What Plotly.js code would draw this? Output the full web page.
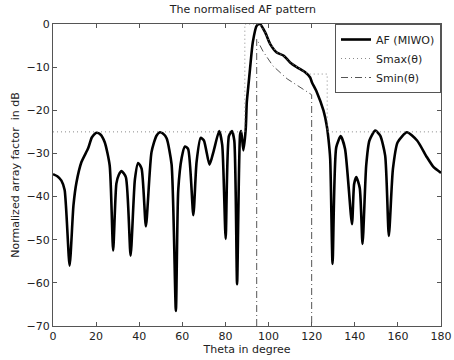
<!DOCTYPE html>
<html>
<head>
<meta charset="utf-8">
<script src="https://cdn.plot.ly/plotly-3.0.1.min.js"></script>
<style>html,body{margin:0;padding:0;background:#fff;}#chart{width:454px;height:360px;}</style>
</head>
<body>
<div id="chart"></div>
<script>
// AF (MIWO) pattern
const afTheta = [0, 2, 3.9, 5.4, 7.7, 9.5, 10.9, 13.2, 16.3, 18, 20.1, 22, 24, 26.3, 27.9, 29.4, 30.5, 31.8, 33.8, 36, 38, 39.5, 41.1, 43.1, 45.7, 48, 49.6, 51, 52.7, 55, 57, 58.1, 59.7, 61.2, 62.7, 65.1, 66.6, 68.5, 70, 72.6, 74.5, 77.1, 78.5, 80.1, 81.6, 83, 84.1, 85.4, 86.8, 87.3, 88.3, 89.4, 89.9, 90.6, 91.4, 92.7, 94.5, 96, 98.4, 100.7, 103.8, 106.9, 110, 113.1, 117, 119.3, 120.1, 122.4, 125.5, 127, 127.8, 128.6, 129.7, 131.4, 133.5, 135.5, 138.7, 139.7, 140.7, 142.3, 143.6, 145.3, 146.8, 149.5, 151.8, 154.1, 155.8, 157.7, 159.9, 164.2, 168.9, 173.5, 176.6, 180];
const afDb = [-34.8, -35.3, -36.3, -38.5, -56, -42, -36.7, -32, -28.8, -26.3, -25.2, -25.6, -27.4, -32.8, -52.5, -37, -35, -34.1, -35.5, -53.7, -36, -32.2, -33.5, -46.9, -29.7, -25.9, -25.1, -25.4, -26.5, -32.5, -66.5, -38.5, -31, -28.4, -29, -44.3, -32, -26.4, -27, -32.6, -29.5, -24.8, -28, -49.8, -26, -24.8, -27, -60.3, -25.6, -24.8, -29.3, -24.4, -18.2, -14.5, -10.4, -4.2, -0.4, 0, -1.9, -4.6, -6.6, -7.3, -8.9, -10.0, -11.2, -12.4, -13.5, -15.8, -20.1, -23.6, -26.7, -31.3, -55.6, -28.6, -26.0, -29, -46.4, -37.1, -35.5, -38, -51, -32.8, -27, -24.7, -25.9, -30.5, -49.1, -33.6, -27.4, -25.1, -27, -30.9, -33.2, -34.5];

// Smax(θ) mask
const smaxTheta = [0, 89, 89, 96, 98.4, 100.7, 103.8, 106.9, 110, 113.1, 117, 118.5, 127.2, 127.2, 180];
const smaxDb = [-25, -25, 0, 0, -1.9, -4.6, -6.6, -7.3, -8.9, -10.0, -11.2, -11.6, -11.6, -25, -25];

// Smin(θ) mask
const sminTheta = [94.5, 94.5, 97.4, 102, 108.6, 114.6, 120, 120];
const sminDb = [-70, -3.5, -6.3, -9.7, -12.7, -14.6, -16.4, -70];

const xTicks = [0, 20, 40, 60, 80, 100, 120, 140, 160, 180];
const yTicks = [0, -10, -20, -30, -40, -50, -60, -70];

const font = {family: 'DejaVu Sans, Verdana, sans-serif', size: 11, color: '#222'};

const traces = [
  {x: afTheta, y: afDb, name: 'AF (MIWO)', mode: 'lines',
   line: {color: '#000', width: 2.6, shape: 'spline', smoothing: 0.6}},
  {x: smaxTheta, y: smaxDb, name: 'Smax(θ)', mode: 'lines',
   line: {color: '#8a8a8a', width: 1, dash: '1px,3px'}},
  {x: sminTheta, y: sminDb, name: 'Smin(θ)', mode: 'lines',
   line: {color: '#555', width: 1, dash: '7px,3px,1px,3px'}}
];

const axisCommon = {
  showgrid: false, zeroline: false, showline: true, linecolor: '#555', linewidth: 1,
  mirror: 'ticks', ticks: 'inside', ticklen: 4, tickcolor: '#555', tickfont: font
};

const layout = {
  width: 454, height: 360,
  margin: {l: 53, r: 13, t: 24, b: 34},
  paper_bgcolor: '#fff', plot_bgcolor: '#fff',
  font: font,
  title: {text: 'The normalised AF pattern', font: {family: font.family, size: 11, color: '#222'}, x: 0.535, xanchor: 'center', y: 0.985, yanchor: 'top'},
  xaxis: Object.assign({}, axisCommon, {range: [0, 180], tickvals: xTicks, ticktext: xTicks.map(String),
    title: {text: 'Theta in degree', font: font, standoff: 2}}),
  yaxis: Object.assign({}, axisCommon, {range: [-70, 0], tickvals: yTicks, ticktext: yTicks.map(v => v === 0 ? '0' : '\u2212' + Math.abs(v)),
    title: {text: 'Normalized array factor  in dB', font: font, standoff: 4}}),
  showlegend: true,
  legend: {x: 1, y: 1, xanchor: 'right', yanchor: 'top', bgcolor: '#fff',
    bordercolor: '#555', borderwidth: 1, font: font, tracegroupgap: 0,
    itemwidth: 30}
};

Plotly.newPlot('chart', traces, layout, {staticPlot: true, displayModeBar: false});
</script>
</body>
</html>
